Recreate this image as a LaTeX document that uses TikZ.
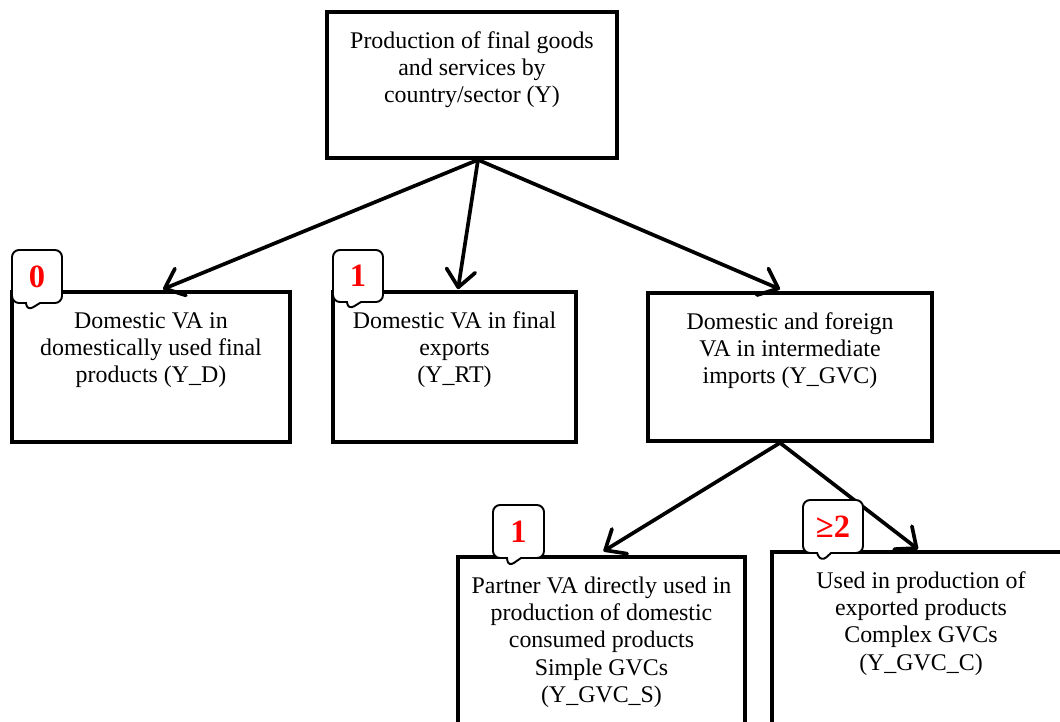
\documentclass[tikz,border=0pt]{standalone}
\usepackage{fontspec}
\setmainfont{Liberation Serif}
\usetikzlibrary{arrows.meta,shapes.callouts,calc}
\definecolor{ink}{HTML}{000000}
\definecolor{badgered}{HTML}{FF0000}
\newcommand{\boxtext}[3]{\parbox[c][#1][t]{#2}{\centering\rule{0pt}{0.72cm}#3}}

\begin{document}
\begin{tikzpicture}[x=0.02cm, y=-0.02cm,
  font=\fontsize{13.6}{15.6}\selectfont,
  flowbox/.style={draw=ink, line width=2.1pt, fill=white, inner sep=0pt},
  link/.style={draw=ink, line width=2.1pt,
    -{Straight Barb[length=3.4mm,width=5.8mm,line width=2.1pt,round]}},
  badge/.style={rectangle callout, draw=ink, line width=1.1pt, fill=white,
    rounded corners=4pt, callout pointer width=0.28cm, inner sep=0pt,
    font=\fontsize{18.5}{18.5}\selectfont\bfseries, text=badgered}]
  \clip (0,0) rectangle (1060,721);

  % top box
  \node[flowbox] (prod) at (472,85)
    {\boxtext{2.92cm}{5.8cm}{Production of final goods\\ and services by\\ country/sector (Y)}};

  % second row
  \node[flowbox] (dom) at (151,367)
    {\boxtext{3.0cm}{5.56cm}{Domestic VA in\\ domestically used final\\ products (Y\_D)}};
  \node[flowbox] (fin) at (454.5,367)
    {\boxtext{3.0cm}{4.86cm}{Domestic VA in final\\ exports\\ (Y\_RT)}};
  \node[flowbox] (imp) at (790,367)
    {\boxtext{2.96cm}{5.68cm}{Domestic and foreign\\ VA in intermediate\\ imports (Y\_GVC)}};

  % third row
  \node[flowbox] (simple) at (601.5,658.5)
    {\boxtext{4.06cm}{5.74cm}{Partner VA directly used in\\ production of domestic\\ consumed products\\ Simple GVCs\\ (Y\_GVC\_S)}};
  \node[flowbox] (complex) at (921,656)
    {\boxtext{4.16cm}{5.96cm}{Used in production of\\ exported products\\ Complex GVCs\\ (Y\_GVC\_C)}};

  % arrows
  \draw[link] ($(prod.south)+(6,0)$) -- ($(dom.north)+(12,-1)$);
  \draw[link] ($(prod.south)+(6,0)$) -- ($(fin.north)+(3.5,-1)$);
  \draw[link] ($(prod.south)+(6,0)$) -- ($(imp.north)+(-10,-2)$);
  \draw[link] ($(imp.south)+(-10,0)$) -- ($(simple.north)+(2,-4)$);
  \draw[link] ($(imp.south)+(-10,0)$) -- ($(complex.north)+(-3,-1)$);

  % badges
  \node[badge, minimum width=1cm, minimum height=1.06cm,
    callout absolute pointer={(27,311)}] (b0) at (37,276.5) {0};
  \node[badge, minimum width=1cm, minimum height=1.04cm,
    callout absolute pointer={(348,310)}] (b1) at (358,276) {1};
  \node[badge, minimum width=1.02cm, minimum height=1.06cm,
    callout absolute pointer={(508,567)}] (b2) at (518.5,531.5) {1};
  \node[badge, minimum width=1.2cm, minimum height=1.06cm,
    callout absolute pointer={(821,562)}] (b3) at (833,526.5) {≥2};
\end{tikzpicture}
\end{document}
